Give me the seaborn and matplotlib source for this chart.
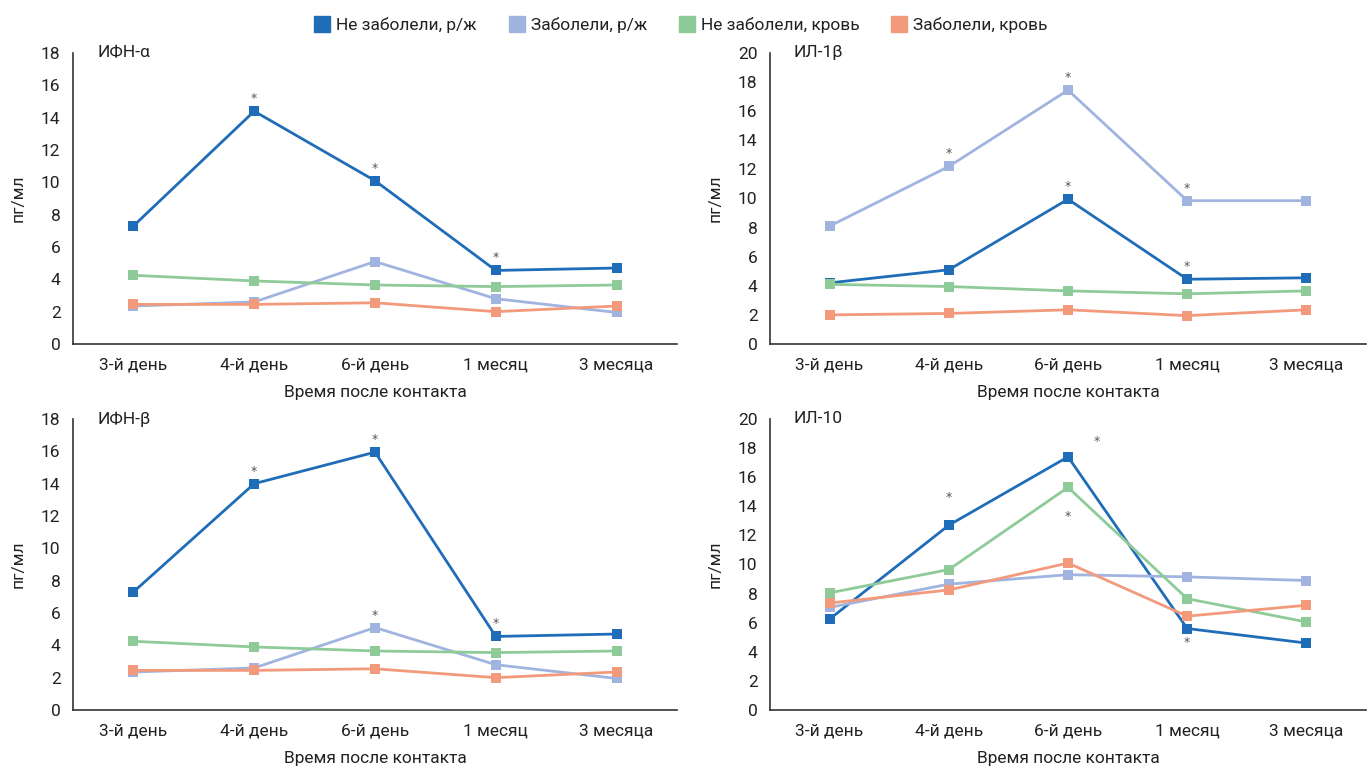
import pandas as pd
import seaborn as sns
import matplotlib.pyplot as plt
from matplotlib.lines import Line2D

categories = ["3-й день", "4-й день", "6-й день", "1 месяц", "3 месяца"]
series_names = ["Не заболели, р/ж", "Заболели, р/ж", "Не заболели, кровь", "Заболели, кровь"]
colors = ["#1f6db8", "#a1b4e0", "#8ecb98", "#f39a7d"]

# ИФН-α
ifna_ne_rzh = [7.3, 14.4, 10.1, 4.55, 4.7]
ifna_zab_rzh = [2.35, 2.6, 5.1, 2.8, 1.95]
ifna_ne_krov = [4.25, 3.9, 3.65, 3.55, 3.65]
ifna_zab_krov = [2.45, 2.45, 2.55, 2.0, 2.35]

# ИЛ-1β
il1b_ne_rzh = [4.2, 5.1, 9.95, 4.45, 4.55]
il1b_zab_rzh = [8.1, 12.2, 17.45, 9.85, 9.85]
il1b_ne_krov = [4.1, 3.95, 3.65, 3.45, 3.65]
il1b_zab_krov = [2.0, 2.1, 2.35, 1.95, 2.35]

# ИФН-β
ifnb_ne_rzh = [7.3, 14.0, 15.95, 4.55, 4.7]
ifnb_zab_rzh = [2.35, 2.6, 5.1, 2.8, 1.95]
ifnb_ne_krov = [4.25, 3.9, 3.65, 3.55, 3.65]
ifnb_zab_krov = [2.45, 2.45, 2.55, 2.0, 2.35]

# ИЛ-10
il10_ne_rzh = [6.25, 12.7, 17.4, 5.6, 4.6]
il10_zab_rzh = [7.05, 8.65, 9.3, 9.15, 8.9]
il10_ne_krov = [8.05, 9.65, 15.3, 7.65, 6.05]
il10_zab_krov = [7.35, 8.25, 10.1, 6.45, 7.2]

# significance stars: (series index, category index)
ifna_stars = [(0, 1), (0, 2), (0, 3)]
il1b_stars = [(1, 1), (1, 2), (1, 3), (0, 2), (0, 3)]
ifnb_stars = [(0, 1), (0, 2), (0, 3), (1, 2)]
il10_stars = [(0, 1), (0, 2), (2, 2), (0, 3)]
# special star offsets (points) for ИЛ-10
il10_star_offsets = {(0, 1): (0, 20), (0, 2): (21, 11), (2, 2): (0, -21), (0, 3): (0, -10)}

panels = [
    ("ИФН-α", [ifna_ne_rzh, ifna_zab_rzh, ifna_ne_krov, ifna_zab_krov], 18, ifna_stars, {}),
    ("ИЛ-1β", [il1b_ne_rzh, il1b_zab_rzh, il1b_ne_krov, il1b_zab_krov], 20, il1b_stars, {}),
    ("ИФН-β", [ifnb_ne_rzh, ifnb_zab_rzh, ifnb_ne_krov, ifnb_zab_krov], 18, ifnb_stars, {}),
    ("ИЛ-10", [il10_ne_rzh, il10_zab_rzh, il10_ne_krov, il10_zab_krov], 20, il10_stars, il10_star_offsets),
]

sns.set_style("white")
plt.rcParams["font.family"] = ["Roboto", "DejaVu Sans"]
plt.rcParams["font.size"] = 12.5
text_c = "#222222"

fig = plt.figure(figsize=(13.67, 7.69), dpi=100)
W, H = 1367, 769
boxes = [(73, 677, 53, 344), (770, 1366, 53, 344), (73, 677, 419, 710), (770, 1366, 419, 710)]

for (title, data, ymax, stars, offs), (x0, x1, yt, yb) in zip(panels, boxes):
    ax = fig.add_axes([x0 / W, 1 - yb / H, (x1 - x0) / W, (yb - yt) / H])
    for vals, name, col in zip(data, series_names, colors):
        df = pd.DataFrame({"cat": list(range(len(categories))), "val": vals})
        sns.lineplot(data=df, x="cat", y="val", ax=ax, color=col, linewidth=2.0,
                     marker="s", markersize=6.5, markeredgewidth=0, legend=False)
    for si, ci in stars:
        dx, dy = offs.get((si, ci), (0, 9))
        ax.annotate("*", (ci, data[si][ci]), xytext=(dx, dy), textcoords="offset points",
                    ha="center", va="center", fontsize=9, color="#555555",
                    family="DejaVu Sans")
    ax.set_xlim(-0.5, len(categories) - 0.5)
    ax.set_ylim(0, ymax)
    ax.set_yticks(range(0, ymax + 1, 2))
    ax.set_xticks(range(len(categories)))
    ax.set_xticklabels(categories)
    ax.set_xticks([i - 0.5 for i in range(len(categories) + 1)], minor=True)
    ax.tick_params(axis="x", which="major", length=0, pad=10, labelsize=12.5, colors=text_c)
    ax.tick_params(axis="x", which="minor", length=8, width=1.2, color="#333333", direction="out")
    ax.tick_params(axis="y", length=6, width=1.2, color="#333333", direction="out",
                   labelsize=12.5, pad=3, labelcolor=text_c)
    for s in ["top", "right"]:
        ax.spines[s].set_visible(False)
    for s in ["left", "bottom"]:
        ax.spines[s].set_color("#333333")
        ax.spines[s].set_linewidth(1.2)
    ax.set_xlabel("Время после контакта", fontsize=12.5, color=text_c, labelpad=9)
    ax.set_ylabel("пг/мл", fontsize=12.5, color=text_c, labelpad=11)
    ax.text(0.04, 1.0, title, transform=ax.transAxes, ha="left", va="center",
            fontsize=12.5, color=text_c)

handles = [Line2D([], [], linestyle="none", marker="s", markersize=11, color=c) for c in colors]
fig.legend(handles, series_names, loc="center", bbox_to_anchor=(0.498, 1 - 25 / H), ncol=4,
           frameon=False, fontsize=12.5, handletextpad=0.3, columnspacing=1.8,
           handlelength=1.0, labelcolor=text_c)

fig.savefig("out.png", dpi=100)
